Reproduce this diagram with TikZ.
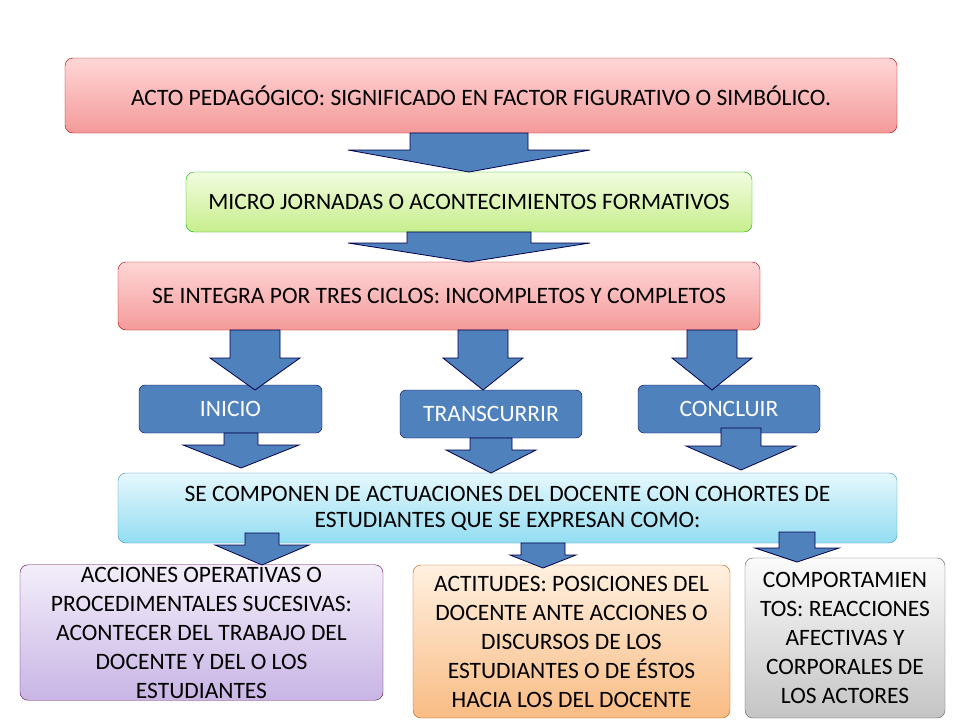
\documentclass[tikz,border=0pt]{standalone}
\usepackage{fontspec}
\setmainfont{Carlito}
\begin{document}
\begin{tikzpicture}[x=1pt,y=-1pt,
 box/.style={draw=#1!70!black,rounded corners=8pt,align=center,font=\fontsize{23.5}{29}\selectfont,inner sep=2pt},
 bl/.style={draw=blue!30!black,fill=arrb,rounded corners=6pt,font=\fontsize{23.5}{26}\selectfont,text=white},
 arr/.style={draw=blue!30!black,fill=arrb,line width=0.8pt}]
\definecolor{arrb}{HTML}{4F81BD}
\definecolor{pk1}{HTML}{FFD6D6}\definecolor{pk2}{HTML}{F49A9A}
\definecolor{gr1}{HTML}{F2FCE0}\definecolor{gr2}{HTML}{C7EE8C}
\definecolor{cy1}{HTML}{E6F8FD}\definecolor{cy2}{HTML}{93DDF2}
\definecolor{pu1}{HTML}{F3EEFA}\definecolor{pu2}{HTML}{C8B5E5}
\definecolor{or1}{HTML}{FFF0E0}\definecolor{or2}{HTML}{F9BC84}
\definecolor{gy1}{HTML}{FBFBFB}\definecolor{gy2}{HTML}{C4C4C4}
\useasboundingbox (0,0) rectangle (960,720);
\newcommand{\darr}[7]{\draw[arr] (#1-#2,#4)--(#1+#2,#4)--(#1+#2,#5)--(#1+#3,#5)--(#1,#6)--(#1-#3,#5)--(#1-#2,#5)--cycle;}
\node[box=red,top color=pk1,bottom color=pk2,minimum width=832,minimum height=75] (a) at (481,95.5) {ACTO PEDAGÓGICO: SIGNIFICADO EN FACTOR FIGURATIVO O SIMBÓLICO.};
\node[box=green,top color=gr1,bottom color=gr2,minimum width=566,minimum height=60] (b) at (469,202) {MICRO JORNADAS O ACONTECIMIENTOS FORMATIVOS};
\node[box=red,top color=pk1,bottom color=pk2,minimum width=642,minimum height=68] (c) at (439,296) {SE INTEGRA POR TRES CICLOS: INCOMPLETOS Y COMPLETOS};
\node[bl,minimum width=183,minimum height=48] (i) at (230.5,409) {INICIO};
\node[bl,minimum width=182,minimum height=48] (t) at (491,414) {TRANSCURRIR};
\node[bl,minimum width=182,minimum height=48] (k) at (729,409) {CONCLUIR};
\node[box=cyan,top color=cy1,bottom color=cy2,minimum width=779,minimum height=70] (d) at (507.5,508) {SE COMPONEN DE ACTUACIONES DEL DOCENTE CON COHORTES DE\\[-3pt]ESTUDIANTES QUE SE EXPRESAN COMO:};
\node[box=violet,top color=pu1,bottom color=pu2,minimum width=363,minimum height=135] (p) at (201.5,632.5) {ACCIONES OPERATIVAS O\\PROCEDIMENTALES SUCESIVAS:\\ACONTECER DEL TRABAJO DEL\\DOCENTE Y DEL O LOS\\ESTUDIANTES};
\node[box=orange,top color=or1,bottom color=or2,minimum width=317,minimum height=153] (o) at (571.5,641.5) {ACTITUDES: POSICIONES DEL\\DOCENTE ANTE ACCIONES O\\DISCURSOS DE LOS\\ESTUDIANTES O DE ÉSTOS\\HACIA LOS DEL DOCENTE};
\node[box=gray,top color=gy1,bottom color=gy2,minimum width=200,minimum height=160] (g) at (845,638) {COMPORTAMIEN\\TOS: REACCIONES\\AFECTIVAS Y\\CORPORALES DE\\LOS ACTORES};
\darr{469}{59}{121}{133}{150}{172}{}
\darr{469}{62}{121}{232}{243}{262}{}
\darr{255}{25}{45}{330}{358}{390}{}
\darr{483}{25}{40}{330}{358}{390}{}
\darr{712}{25}{40}{330}{358}{390}{}
\darr{241}{17}{58}{433}{445}{468}{}
\darr{491}{21}{45}{438}{450}{473}{}
\darr{741}{20}{55}{428}{446}{470}{}
\darr{262}{17}{47}{533}{545}{565}{}
\darr{543}{22}{33}{543}{555}{568}{}
\darr{797}{18}{42}{532}{548}{562}{}
\end{tikzpicture}
\end{document}
